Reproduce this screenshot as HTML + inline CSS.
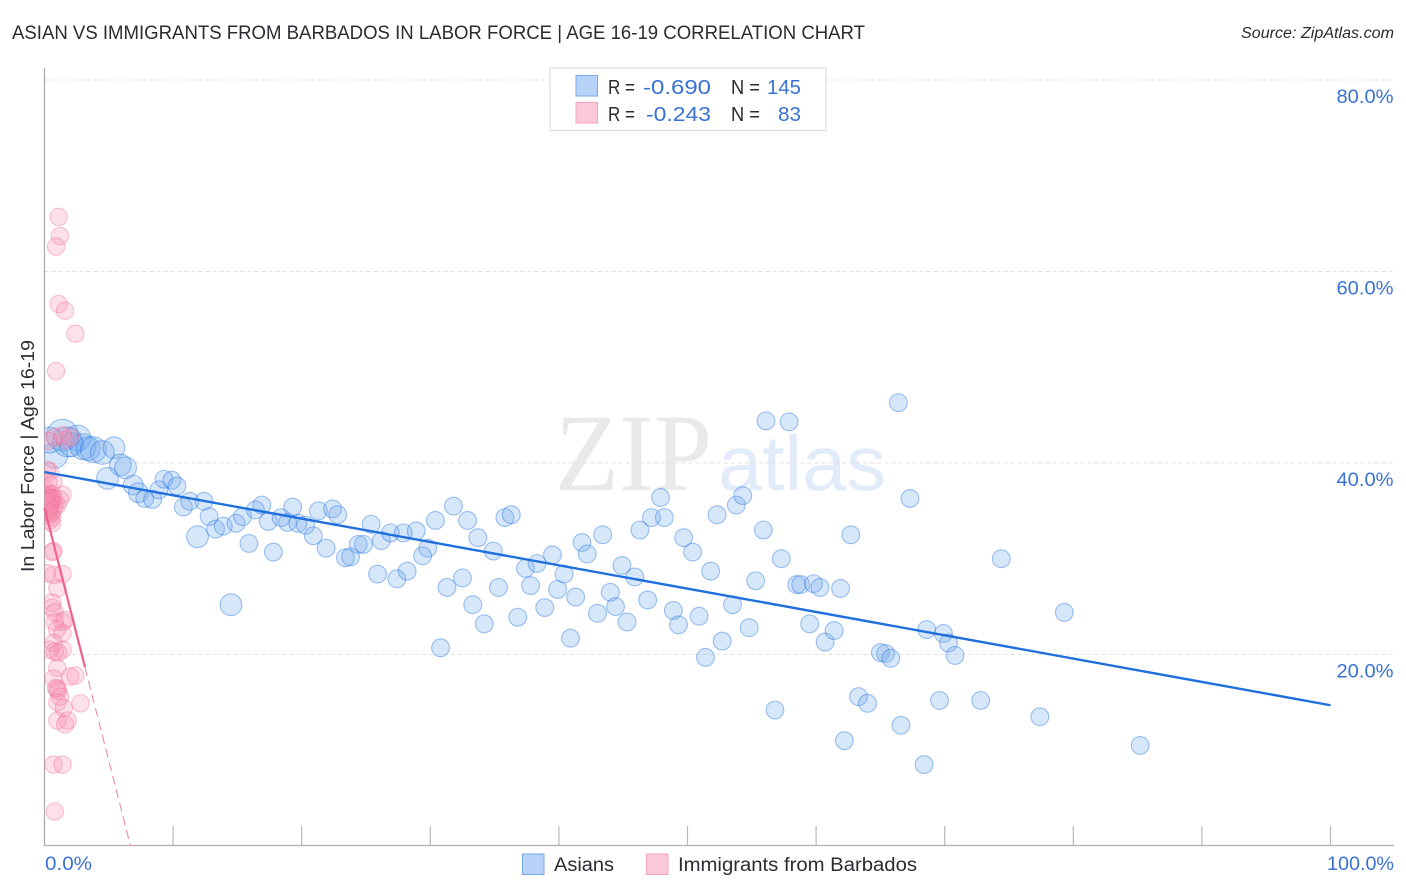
<!DOCTYPE html>
<html lang="en">
<head>
<meta charset="utf-8">
<title>Asian vs Immigrants from Barbados in Labor Force | Age 16-19 Correlation Chart</title>
<style>
html,body{margin:0;padding:0;background:#fff;}
svg{display:block;font-family:"Liberation Sans",sans-serif;}
</style>
</head>
<body>
<svg id="chart" xmlns="http://www.w3.org/2000/svg" width="1406" height="892" viewBox="0 0 1406 892">
  <defs>
    <clipPath id="plot-clip"><rect x="44.5" y="60" width="1350" height="786"/></clipPath>
  </defs>
  <rect x="0" y="0" width="1406" height="892" fill="#ffffff"/>
  <text x="12" y="39" font-size="19.5" fill="#2b2b33" textLength="853" lengthAdjust="spacingAndGlyphs">ASIAN VS IMMIGRANTS FROM BARBADOS IN LABOR FORCE | AGE 16-19 CORRELATION CHART</text>
  <text x="1241" y="38" font-size="15.5" font-style="italic" fill="#2b2b33" textLength="153" lengthAdjust="spacingAndGlyphs">Source: ZipAtlas.com</text>
  <text x="555" y="490" font-size="110" fill="#e9e9e9" font-family="'Liberation Serif',serif" textLength="157" lengthAdjust="spacingAndGlyphs">ZIP</text>
  <text x="718" y="490" font-size="78" fill="#e2ebfa" textLength="168" lengthAdjust="spacingAndGlyphs">atlas</text>
  <g id="grid"></g>
  <g id="axes"></g>
  <g id="asian-points" clip-path="url(#plot-clip)"></g>
  <g id="barbados-points" clip-path="url(#plot-clip)"></g>
  <g id="trends"></g>
  <g>
    <rect x="550" y="68" width="276" height="62.5" fill="#ffffff" stroke="#dddddd" stroke-width="1.2"/>
    <rect x="576" y="75.5" width="21.5" height="20.5" fill="#b6d2f7" stroke="#7aa8e8" stroke-width="1"/>
    <rect x="576" y="102.5" width="21.5" height="20.5" fill="#fbc8d9" stroke="#f4a3bd" stroke-width="1"/>
    <g font-size="20.5">
      <text x="608" y="94" fill="#2b2b33" textLength="27" lengthAdjust="spacingAndGlyphs">R =</text>
      <text x="643" y="94" fill="#3a72d4" textLength="68" lengthAdjust="spacingAndGlyphs">-0.690</text>
      <text x="731" y="94" fill="#2b2b33" textLength="29" lengthAdjust="spacingAndGlyphs">N =</text>
      <text x="767" y="94" fill="#3a72d4" textLength="34" lengthAdjust="spacingAndGlyphs">145</text>
      <text x="608" y="121" fill="#2b2b33" textLength="27" lengthAdjust="spacingAndGlyphs">R =</text>
      <text x="646" y="121" fill="#3a72d4" textLength="65" lengthAdjust="spacingAndGlyphs">-0.243</text>
      <text x="731" y="121" fill="#2b2b33" textLength="29" lengthAdjust="spacingAndGlyphs">N =</text>
      <text x="778" y="121" fill="#3a72d4" textLength="23" lengthAdjust="spacingAndGlyphs">83</text>
    </g>
  </g>
  <text transform="translate(34 572) rotate(-90)" x="0" y="0" font-size="18.5" fill="#2b2b33" textLength="232" lengthAdjust="spacingAndGlyphs">In Labor Force | Age 16-19</text>
  <g>
    <rect x="522.5" y="854" width="21.5" height="20.5" fill="#b6d2f7" stroke="#7aa8e8" stroke-width="1"/>
    <text x="554" y="871" font-size="19" fill="#2b2b33" textLength="60" lengthAdjust="spacingAndGlyphs">Asians</text>
    <rect x="646.5" y="854" width="21.5" height="20.5" fill="#fbc8d9" stroke="#f4a3bd" stroke-width="1"/>
    <text x="678" y="871" font-size="19" fill="#2b2b33" textLength="239" lengthAdjust="spacingAndGlyphs">Immigrants from Barbados</text>
  </g>
</svg>
<script>
// ---- Chart data (percent units) ----
const yTickValues = [80, 60, 40, 20];
const yTickLabels = ["80.0%", "60.0%", "40.0%", "20.0%"];
const xTickValues = [10, 20, 30, 40, 50, 60, 70, 80, 90, 100];
const xEdgeValues = [0, 100];
const xEdgeLabels = ["0.0%", "100.0%"];

const asianX = [0.8,1.4,0.4,1.8,2.6,3.0,2.1,3.4,3.8,4.5,5.4,5.9,6.3,4.9,6.9,7.3,7.8,8.4,8.9,9.3,9.9,10.3,10.8,11.3,12.4,12.8,13.3,13.9,14.9,15.4,16.4,16.9,17.4,18.4,18.9,19.3,11.9,15.9,17.8,14.5,
19.7,20.3,21.3,22.4,22.8,20.9,21.9,25.4,23.4,23.8,24.4,24.8,26.2,26.9,27.9,28.9,29.8,29.4,25.9,27.4,28.2,30.4,31.8,32.9,33.7,34.9,35.8,36.3,37.4,38.3,39.5,37.8,39.9,40.4,41.8,42.2,43.4,44.9,45.9,46.3,47.2,48.2,47.9,49.7,50.4,51.8,52.3,53.8,54.3,55.9,57.3,55.3,58.5,58.8,59.8,60.3,61.9,62.7,56.1,57.9,66.4,67.3,74.4,79.3,31.3,32.5,33.3,34.2,35.3,36.8,38.9,40.9,41.3,43.0,44.0,44.4,45.3,46.9,48.9,49.3,50.9,53.5,54.8,52.7,51.4,30.8,59.5,60.7,61.4,65.0,65.4,65.8,68.6,69.9,70.3,70.8,63.3,64.0,69.6,72.8,77.4,85.2,56.8,66.6,62.2,68.4];
const asianY = [40.8,42.9,42.4,42.2,42.6,41.7,41.9,41.5,41.4,41.1,41.6,39.8,39.5,38.4,37.7,36.9,36.3,36.2,37.2,38.3,38.2,37.6,35.4,36.0,36.0,34.4,33.1,33.4,33.7,34.4,35.1,35.6,33.9,34.3,33.8,35.4,32.3,31.6,30.7,25.2,
33.7,33.5,35.0,35.2,34.6,32.4,31.1,33.6,30.1,30.2,31.5,31.5,31.9,32.7,32.7,32.9,31.1,30.3,28.4,27.9,28.7,34.0,35.5,34.0,32.2,30.8,34.3,34.6,29.0,29.5,30.4,27.2,26.8,28.4,31.7,30.5,32.5,29.3,28.1,33.0,34.3,34.3,36.4,32.2,30.7,28.7,34.6,35.6,36.6,33.0,30.0,27.7,27.3,27.3,27.4,27.0,26.9,32.5,44.4,44.3,46.3,36.3,30.0,24.4,27.0,28.0,25.2,23.2,27.0,23.9,24.9,21.7,26.0,24.3,26.5,25.0,23.4,25.7,24.6,23.1,24.0,25.2,22.8,21.4,19.7,20.7,23.2,21.3,22.5,20.2,20.1,19.6,22.6,22.2,21.2,19.9,15.6,14.9,15.2,15.2,13.5,10.5,14.2,12.6,11.0,8.5];
// Relative population weight of the leading points; remaining points have weight 0.
const asianWeight = [4,7,4,6,4,4,3,3,4,3,2,2,2,2,1,1,0,0,0,0,0,0,0,0,0,0,0,0,0,0,0,0,0,0,0,0,2,0,0,2];

const barbadosX = [1.1,1.2,0.9,1.1,1.6,2.4,0.9,0.8,1.6,0.3,1.4,2.0,0.4,0.2,0.7,0.3,0.1,0.3,0.4,0.6,0.7,0.2,0.35,0.6,0.8,0.2,0.4,0.7,0.1,0.35,0.6,1.4,1.2,1.0,0.4,0.6,0.7,0.6,0.2,1.4,0.7,1.0,0.6,0.6,0.8,1.6,1.4,0.8,0.97,1.4,0.7,0.8,1.4,1.05,0.4,1.0,0.7,2.0,2.4,1.0,1.05,0.9,1.2,1.0,1.5,2.8,1.0,1.6,1.8,0.7,1.4,0.8,0.1,0.2,0.3,0.5,0.1,0.2,0.4,0.5,0.1,0.3,0.5];
const barbadosY = [65.7,63.7,62.6,56.6,55.9,53.5,49.6,42.7,42.4,42.3,42.9,42.7,39.1,39.3,38.0,38.0,37.2,36.8,36.4,36.7,36.3,36.1,35.8,35.9,35.6,35.4,35.1,35.1,34.8,34.5,34.3,36.7,36.2,35.6,34.0,33.7,30.8,30.7,28.5,28.4,28.3,26.9,25.4,24.9,24.4,23.6,23.4,23.4,22.6,22.2,21.2,20.3,20.5,20.2,20.5,18.6,17.5,17.7,17.8,16.4,16.2,16.5,15.6,15.0,14.4,14.9,13.1,12.7,13.1,8.5,8.5,3.6,36.6,36.2,35.9,36.0,35.6,35.2,35.5,36.3,36.0,34.9,34.8];

// Trend fits: value at x = 0, value at x = 100 (Asian), and slope (Barbados)
const asianTrend = [39.06, 14.7];
const barbadosTrendIntercept = 35.3;
const barbadosTrendSlope = -5.28;
const barbadosSolidEnd = 3.15;

// ---- Axis functions ----
function xScale(v) { return 44.5 + v * 12.86; }
function yScale(v) { return 846 - v * 9.575; }
function rScale(w) { return 8.9 + w; }

const NS = "http://www.w3.org/2000/svg";
function make(parent, tag, props) {
  const el = document.createElementNS(NS, tag);
  for (const k in props) el.setAttribute(k, props[k]);
  parent.appendChild(el);
  return el;
}

const grid = document.getElementById("grid");
const axes = document.getElementById("axes");
const asianLayer = document.getElementById("asian-points");
const barbadosLayer = document.getElementById("barbados-points");
const trends = document.getElementById("trends");

yTickValues.forEach(function (v, i) {
  const line = make(grid, "line", {x1: 44.5, x2: 1394, y1: yScale(v), y2: yScale(v), stroke: "#e2e2e2", "stroke-width": 1, "stroke-dasharray": "4 3"});
  
  
  const label = make(axes, "text", {x: 1393.5, y: yScale(v) + 23, "text-anchor": "end", "font-size": 19, fill: "#3a72d4", textLength: 57, lengthAdjust: "spacingAndGlyphs"});
  label.textContent = yTickLabels[i];
  
  
});

const yAxisLine = make(axes, "line", {x1: 44.5, x2: 44.5, y1: 68, y2: 846, stroke: "#a8a8a8", "stroke-width": 1.2});


const xAxisLine = make(axes, "line", {x1: 44, x2: 1394, y1: 845.5, y2: 845.5, stroke: "#b0b0b0", "stroke-width": 1.2});



xTickValues.forEach(function (v) {
  const tick = make(axes, "line", {x1: xScale(v), x2: xScale(v), y1: 826, y2: 846, stroke: "#b8b8b8", "stroke-width": 1.2});
  
  
});

xEdgeValues.forEach(function (v, i) {
  const props = i === 0
    ? {x: xScale(v) + 0.5, y: 870, "font-size": 19, fill: "#3a72d4", textLength: 47, lengthAdjust: "spacingAndGlyphs"}
    : {x: xScale(v) - 3.5, y: 870, "font-size": 19, fill: "#3a72d4", textLength: 67, lengthAdjust: "spacingAndGlyphs"};
  const label = make(axes, "text", props);
  label.textContent = xEdgeLabels[i];
  
  
});

asianX.forEach(function (x, i) {
  const w = i < asianWeight.length ? asianWeight[i] : 0;
  const c = make(asianLayer, "circle", {cx: xScale(x), cy: yScale(asianY[i]), r: rScale(w), fill: "#6aa5ee", "fill-opacity": 0.27, stroke: "#2f7ae0", "stroke-opacity": 0.45, "stroke-width": 1.1});
  
  
});

barbadosX.forEach(function (x, i) {
  const c = make(barbadosLayer, "circle", {cx: xScale(x), cy: yScale(barbadosY[i]), r: rScale(0) - 0.2, fill: "#f78fb0", "fill-opacity": 0.28, stroke: "#ee6a95", "stroke-opacity": 0.38, "stroke-width": 1.1});
  
  
});

const asianTrendLine = make(trends, "line", {x1: xScale(0), y1: yScale(asianTrend[0]), x2: xScale(100), y2: yScale(asianTrend[1]), stroke: "#1f6fdc", "stroke-width": 2.4});



function barbadosFit(x) { return barbadosTrendIntercept + barbadosTrendSlope * x; }
const barbadosZeroX = -barbadosTrendIntercept / barbadosTrendSlope;
const barbadosSolid = make(trends, "line", {x1: xScale(0), y1: yScale(barbadosFit(0)), x2: xScale(barbadosSolidEnd), y2: yScale(barbadosFit(barbadosSolidEnd)), stroke: "#f0608f", "stroke-width": 2.2});


const barbadosDash = make(trends, "line", {x1: xScale(barbadosSolidEnd), y1: yScale(barbadosFit(barbadosSolidEnd)), x2: xScale(barbadosZeroX), y2: yScale(0), stroke: "#ee7fa4", "stroke-width": 1, "stroke-dasharray": "9 5"});


</script>
</body>
</html>
